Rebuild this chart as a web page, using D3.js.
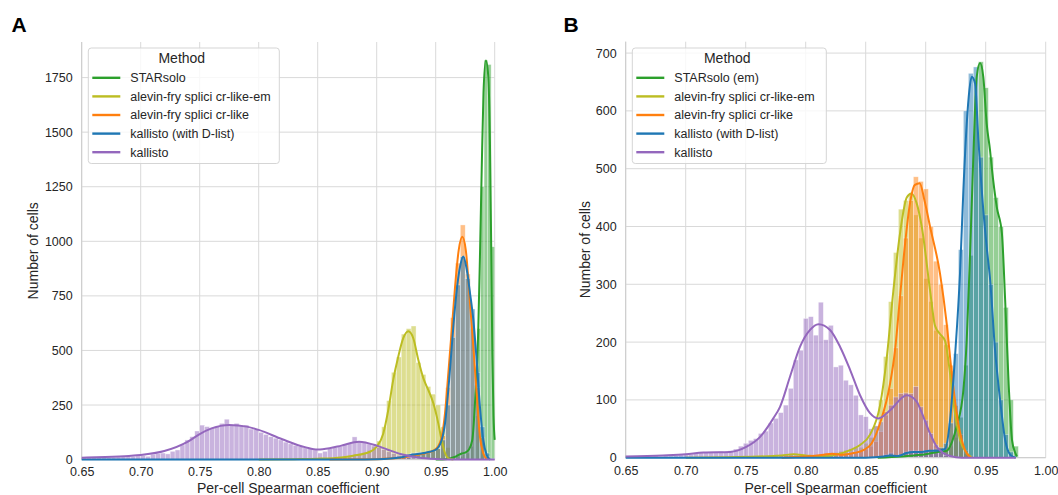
<!DOCTYPE html>
<html>
<head>
<meta charset="utf-8">
<script src="https://cdn.jsdelivr.net/npm/d3@7"></script>
<style>
  body { margin: 0; background: #fff; }
  svg text { font-family: "Liberation Sans", Arial, sans-serif; fill: #262626; }
</style>
</head>
<body>
<svg id="chart" width="1058" height="495"></svg>
<script>
// ---------------- data ----------------
const methodsA = ["STARsolo", "alevin-fry splici cr-like-em", "alevin-fry splici cr-like", "kallisto (with D-list)", "kallisto"];
const methodsB = ["STARsolo (em)", "alevin-fry splici cr-like-em", "alevin-fry splici cr-like", "kallisto (with D-list)", "kallisto"];
const xTicks = [0.65, 0.70, 0.75, 0.80, 0.85, 0.90, 0.95, 1.00];
const yTicksA = [0, 250, 500, 750, 1000, 1250, 1500, 1750];
const yTicksB = [0, 100, 200, 300, 400, 500, 600, 700];

// panel A histograms: [first bin start, bin width] + counts
const aStarsoloBins = [0.955, 0.003];
const aStarsoloCounts = [2, 3, 4, 8, 12, 15, 25, 30, 60, 200, 600, 1250, 1830, 1810, 975];
const aEmBins = [0.85, 0.0041667];
const aEmCounts = [3, 4, 5, 6, 8, 10, 14, 18, 24, 32, 42, 58, 85, 150, 270, 400, 470, 575, 600, 612, 445, 390, 335, 300, 250, 150, 55, 15, 4, 1];
const aCrBins = [0.87917, 0.0041667];
const aCrCounts = [0, 1, 1, 2, 3, 3, 4, 5, 8, 12, 18, 24, 28, 30, 32, 30, 38, 50, 110, 330, 650, 900, 1075, 850, 600, 330, 100, 15, 2];
const aDlistBins = [0.87917, 0.0041667];
const aDlistCounts = [1, 1, 2, 2, 3, 4, 5, 7, 10, 15, 20, 25, 30, 32, 33, 35, 42, 50, 90, 250, 560, 800, 930, 830, 690, 400, 150, 30, 4];
const aKallistoBins = [0.65, 0.0041667];
const aKallistoCounts = [8, 8, 9, 9, 10, 10, 11, 12, 13, 14, 15, 17,
  19, 15, 24, 27, 30, 26, 38,
  44, 67, 90, 105, 131, 158, 151, 145, 151, 166, 185, 158, 166, 154, 158, 140, 140,
  125, 115, 105, 98, 90, 80, 72, 65, 60, 55, 50, 44,
  30, 38, 50, 56, 62, 68, 75, 104, 82, 78, 72, 65,
  55, 46, 36, 28, 20, 14, 10, 7, 4, 3,
  2, 1, 1, 1, 0, 0, 0, 0, 0, 0, 0, 0, 0, 0];

// panel A density curves [x, count]
const aStarsoloKde = [[0.95, 0], [0.96, 3], [0.966, 12], [0.969, 20], [0.972, 28], [0.975, 32], [0.978, 45], [0.981, 90], [0.9835, 280], [0.986, 580], [0.9875, 930], [0.989, 1330], [0.9905, 1680], [0.9925, 1828], [0.9945, 1760], [0.996, 1440], [0.997, 990], [0.998, 480], [0.999, 200], [1.0, 90]];
const aEmKde = [[0.80, 0], [0.83, 2], [0.85, 4], [0.87, 10], [0.88, 18], [0.8943, 36], [0.90, 59], [0.9056, 120], [0.9098, 227], [0.914, 365], [0.9183, 472], [0.9225, 556], [0.9268, 588], [0.931, 556], [0.9353, 456], [0.9395, 373], [0.9437, 319], [0.948, 258], [0.9522, 166], [0.955, 90], [0.958, 29], [0.9607, 6], [0.965, 0]];
const aCrKde = [[0.86, 0], [0.90, 2], [0.92, 8], [0.93, 18], [0.94, 28], [0.945, 35], [0.9508, 52], [0.9551, 105], [0.9579, 213], [0.9607, 395], [0.9636, 594], [0.9664, 792], [0.9695, 960], [0.9725, 1021], [0.9755, 960], [0.9791, 716], [0.9819, 517], [0.9847, 304], [0.9875, 105], [0.9903, 29], [0.9932, 2]];
const aDlistKde = [[0.65, 0], [0.88, 0], [0.90, 2], [0.92, 10], [0.93, 22], [0.94, 30], [0.945, 36], [0.95, 45], [0.9551, 90], [0.9579, 166], [0.9607, 319], [0.9636, 517], [0.9664, 700], [0.9705, 880], [0.9734, 930], [0.976, 880], [0.9791, 762], [0.9819, 640], [0.9847, 456], [0.9875, 242], [0.9903, 90], [0.9932, 21], [0.996, 0]];
const aKallistoKde = [[0.65, 9], [0.67, 12], [0.69, 17], [0.70, 21], [0.72, 39], [0.74, 82], [0.75, 117], [0.76, 143], [0.775, 159], [0.79, 151], [0.80, 136], [0.82, 93], [0.84, 56], [0.85, 46], [0.86, 52], [0.87, 64], [0.885, 82], [0.90, 64], [0.91, 44], [0.92, 26], [0.935, 10], [0.95, 3], [0.97, 0], [1.0, 0]];

// panel B histograms
const bStarsoloBins = [0.89389, 0.0041667];
const bStarsoloCounts = [3, 4, 5, 6, 8, 12, 20, 35, 70, 160, 350, 600, 685, 640, 520, 450, 400, 260, 100, 20];
const bEmBins = [0.7564, 0.0041667];
const bEmCounts = [2, 3, 3, 4, 5, 5, 6, 5, 4, 3, 2, 3, 4, 5, 6, 7, 9, 11, 13, 15, 17,
  18, 25, 35, 55, 100, 175, 270, 355, 430, 445, 455, 420, 380, 310, 270, 220, 210, 195, 150, 80, 30, 8, 2];
const bCrBins = [0.79805, 0.0041667];
const bCrCounts = [2, 3, 5, 6, 7, 6, 5, 6, 7, 8, 10, 12, 15,
  20, 28, 45, 80, 120, 190, 280, 380, 445, 486, 478, 465, 400, 340, 300, 230, 160, 90, 40, 12, 3];
const bDlistBins = [0.86055, 0.0041667];
const bDlistCounts = [2, 5, 8, 4, 6, 10, 12, 12, 10, 12,
  12, 15, 18, 25, 60, 180, 360, 600, 665, 676, 520, 420, 300, 200, 100, 40, 10, 2];
const bKallistoBins = [0.6522, 0.0041667];
const bKallistoCounts = [1, 1, 2, 1, 2, 3, 2, 3, 3, 4, 5, 5, 6, 8, 9, 9, 10, 9, 11, 10, 12, 15,
  20, 25, 30, 33, 42, 46, 60, 68, 78,
  91, 120, 169, 186, 241, 244, 212, 269, 204, 229, 157, 160, 134, 126, 108, 74, 71,
  50, 55, 62, 74, 91, 105, 111, 112, 111, 123, 88, 65, 42, 22, 10, 4, 2, 1];

// panel B density curves
const bStarsoloKde = [[0.86, 0], [0.88, 2], [0.89, 4], [0.90, 6], [0.91, 10], [0.9175, 12], [0.922, 28], [0.9258, 54], [0.9314, 117], [0.9342, 204], [0.9369, 348], [0.9397, 521], [0.9425, 659], [0.9453, 683], [0.948, 659], [0.9508, 578], [0.9536, 532], [0.955, 503], [0.9592, 434], [0.9635, 388], [0.9662, 273], [0.9691, 129], [0.9719, 31], [0.9747, 8], [0.976, 2]];
const bEmKde = [[0.70, 0], [0.76, 2], [0.78, 4], [0.79, 6], [0.80, 4], [0.812, 2], [0.825, 5], [0.837, 13], [0.8453, 22], [0.8536, 40], [0.8619, 90], [0.8675, 172], [0.873, 288], [0.8786, 388], [0.8842, 450], [0.888, 457], [0.8925, 440], [0.8967, 400], [0.9036, 290], [0.9078, 228], [0.9119, 214], [0.9161, 202], [0.9203, 146], [0.9244, 77], [0.9286, 31], [0.9342, 8], [0.938, 1]];
const bCrKde = [[0.78, 0], [0.80, 2], [0.815, 5], [0.822, 7], [0.83, 5], [0.84, 8], [0.848, 13], [0.855, 25], [0.862, 60], [0.8703, 128], [0.8744, 185], [0.8786, 278], [0.8828, 370], [0.8869, 440], [0.891, 472], [0.895, 475], [0.899, 445], [0.9036, 400], [0.9119, 319], [0.9175, 232], [0.9217, 146], [0.9272, 59], [0.9328, 13], [0.937, 1]];
const bDlistKde = [[0.65, 0], [0.85, 0], [0.865, 2], [0.87, 4], [0.877, 3], [0.884, 8], [0.89, 10], [0.897, 10], [0.903, 12], [0.909, 12], [0.9161, 15], [0.9203, 65], [0.9244, 175], [0.9286, 319], [0.9314, 463], [0.9342, 578], [0.9364, 636], [0.9383, 659], [0.9411, 648], [0.9439, 550], [0.9467, 463], [0.9508, 365], [0.9536, 310], [0.9578, 186], [0.962, 100], [0.9662, 31], [0.9705, 5], [0.975, 0]];
const bKallistoKde = [[0.65, 2], [0.681, 4], [0.70, 6], [0.7147, 9], [0.737, 10], [0.7508, 19], [0.762, 36], [0.773, 68], [0.7786, 88], [0.7869, 140], [0.7953, 192], [0.8036, 221], [0.8106, 231], [0.8203, 221], [0.8286, 192], [0.837, 152], [0.8453, 108], [0.8536, 77], [0.8606, 68], [0.8703, 82], [0.8842, 108], [0.8925, 97], [0.8953, 85], [0.9036, 42], [0.9092, 19], [0.9147, 8], [0.9203, 3], [0.93, 0], [0.975, 0]];

// ---------------- drawing ----------------
const colors = ["#2ca02c", "#bcbd22", "#ff7f0e", "#1f77b4", "#9467bd"];
const svg = d3.select("#chart");

function drawPanel(p) {
    const x = d3.scaleLinear([0.65, 1.0], [p.left, p.right]);
    const y = d3.scaleLinear([0, p.yMax], [p.bottom, p.top]);
    const g = svg.append("g");

    // grid
    g.append("g").selectAll("line").data(xTicks).join("line")
        .attr("x1", d => x(d)).attr("x2", d => x(d))
        .attr("y1", p.top).attr("y2", p.bottom)
        .attr("stroke", "#d9d9d9").attr("stroke-width", 1);
    g.append("g").selectAll("line").data(p.yTicks).join("line")
        .attr("x1", p.left).attr("x2", p.right)
        .attr("y1", d => y(d)).attr("y2", d => y(d))
        .attr("stroke", "#d9d9d9").attr("stroke-width", 1);

    // histograms, first method at the bottom
    p.hists.forEach((h, k) => {
        const [start, w] = h.bins;
        g.append("g").selectAll("rect").data(h.counts).join("rect")
            .attr("x", (d, i) => x(start + i * w))
            .attr("width", (d, i) => x(start + (i + 1) * w) - x(start + i * w))
            .attr("y", d => y(d))
            .attr("height", d => y(0) - y(d))
            .attr("fill", colors[k]).attr("fill-opacity", 0.5)
            .attr("stroke", "#fff").attr("stroke-opacity", 0.6).attr("stroke-width", 0.6);
    });

    // axes (no tick marks, no domain)
    g.append("g").attr("transform", `translate(0,${p.bottom})`)
        .call(d3.axisBottom(x).tickValues(xTicks).tickFormat(d3.format(".2f")).tickSize(0).tickPadding(8))
        .call(a => a.select(".domain").remove())
        .call(a => a.selectAll("text").attr("font-size", 12.5).attr("font-family", null));
    g.append("g").attr("transform", `translate(${p.left},0)`)
        .call(d3.axisLeft(y).tickValues(p.yTicks).tickFormat(d3.format("d")).tickSize(0).tickPadding(9))
        .call(a => a.select(".domain").remove())
        .call(a => a.selectAll("text").attr("font-size", 12.5).attr("font-family", null));

    // spines left/bottom
    g.append("line").attr("x1", p.left).attr("x2", p.left).attr("y1", p.top).attr("y2", p.bottom)
        .attr("stroke", "#cccccc");
    g.append("line").attr("x1", p.left).attr("x2", p.right).attr("y1", p.bottom).attr("y2", p.bottom)
        .attr("stroke", "#cccccc");

    // density lines
    const line = d3.line().x(d => x(d[0])).y(d => y(d[1])).curve(d3.curveMonotoneX);
    p.kdes.forEach((kd, k) => {
        g.append("path").datum(kd).attr("d", line)
            .attr("fill", "none").attr("stroke", colors[k]).attr("stroke-width", 2)
            .attr("stroke-linejoin", "round");
    });

    // axis labels
    g.append("text").attr("x", (p.left + p.right) / 2).attr("y", 493)
        .attr("text-anchor", "middle").attr("font-size", 14).text("Per-cell Spearman coefficient");
    g.append("text").attr("transform", `translate(${p.ylabX},${(p.top + p.bottom) / 2}) rotate(-90)`)
        .attr("text-anchor", "middle").attr("font-size", 14).text("Number of cells");

    // panel letter
    g.append("text").attr("x", p.letterX).attr("y", 32)
        .attr("font-size", 21).attr("font-weight", "bold").style("fill", "#000").text(p.letter);

    // legend
    const lg = g.append("g");
    lg.append("rect").attr("x", p.legX).attr("y", 48).attr("width", p.legW).attr("height", 115.5)
        .attr("rx", 3).attr("fill", "#fff").attr("fill-opacity", 0.8).attr("stroke", "#d5d5d5");
    lg.append("text").attr("x", p.legX + p.legW / 2 - 2).attr("y", 63.3)
        .attr("text-anchor", "middle").attr("font-size", 14).text("Method");
    p.names.forEach((name, k) => {
        const yy = 77.8 + k * 18.6;
        lg.append("line").attr("x1", p.legX + 4).attr("x2", p.legX + 32)
            .attr("y1", yy).attr("y2", yy).attr("stroke", colors[k]).attr("stroke-width", 2.4);
        lg.append("text").attr("x", p.legX + 42).attr("y", yy).attr("dy", "0.35em")
            .attr("font-size", 12.5).text(name);
    });
}

drawPanel({
    left: 81.7, right: 494.7, top: 42, bottom: 459.6, yMax: 1913, yTicks: yTicksA,
    names: methodsA, letter: "A", letterX: 11.5, ylabX: 38, legX: 88.3, legW: 191,
    hists: [
        { bins: aStarsoloBins, counts: aStarsoloCounts },
        { bins: aEmBins, counts: aEmCounts },
        { bins: aCrBins, counts: aCrCounts },
        { bins: aDlistBins, counts: aDlistCounts },
        { bins: aKallistoBins, counts: aKallistoCounts }
    ],
    kdes: [aStarsoloKde, aEmKde, aCrKde, aDlistKde, aKallistoKde]
});
drawPanel({
    left: 625.7, right: 1045.7, top: 41.7, bottom: 457.7, yMax: 719.7, yTicks: yTicksB,
    names: methodsB, letter: "B", letterX: 563.5, ylabX: 589.5, legX: 632.3, legW: 194,
    hists: [
        { bins: bStarsoloBins, counts: bStarsoloCounts },
        { bins: bEmBins, counts: bEmCounts },
        { bins: bCrBins, counts: bCrCounts },
        { bins: bDlistBins, counts: bDlistCounts },
        { bins: bKallistoBins, counts: bKallistoCounts }
    ],
    kdes: [bStarsoloKde, bEmKde, bCrKde, bDlistKde, bKallistoKde]
});
</script>
</body>
</html>
